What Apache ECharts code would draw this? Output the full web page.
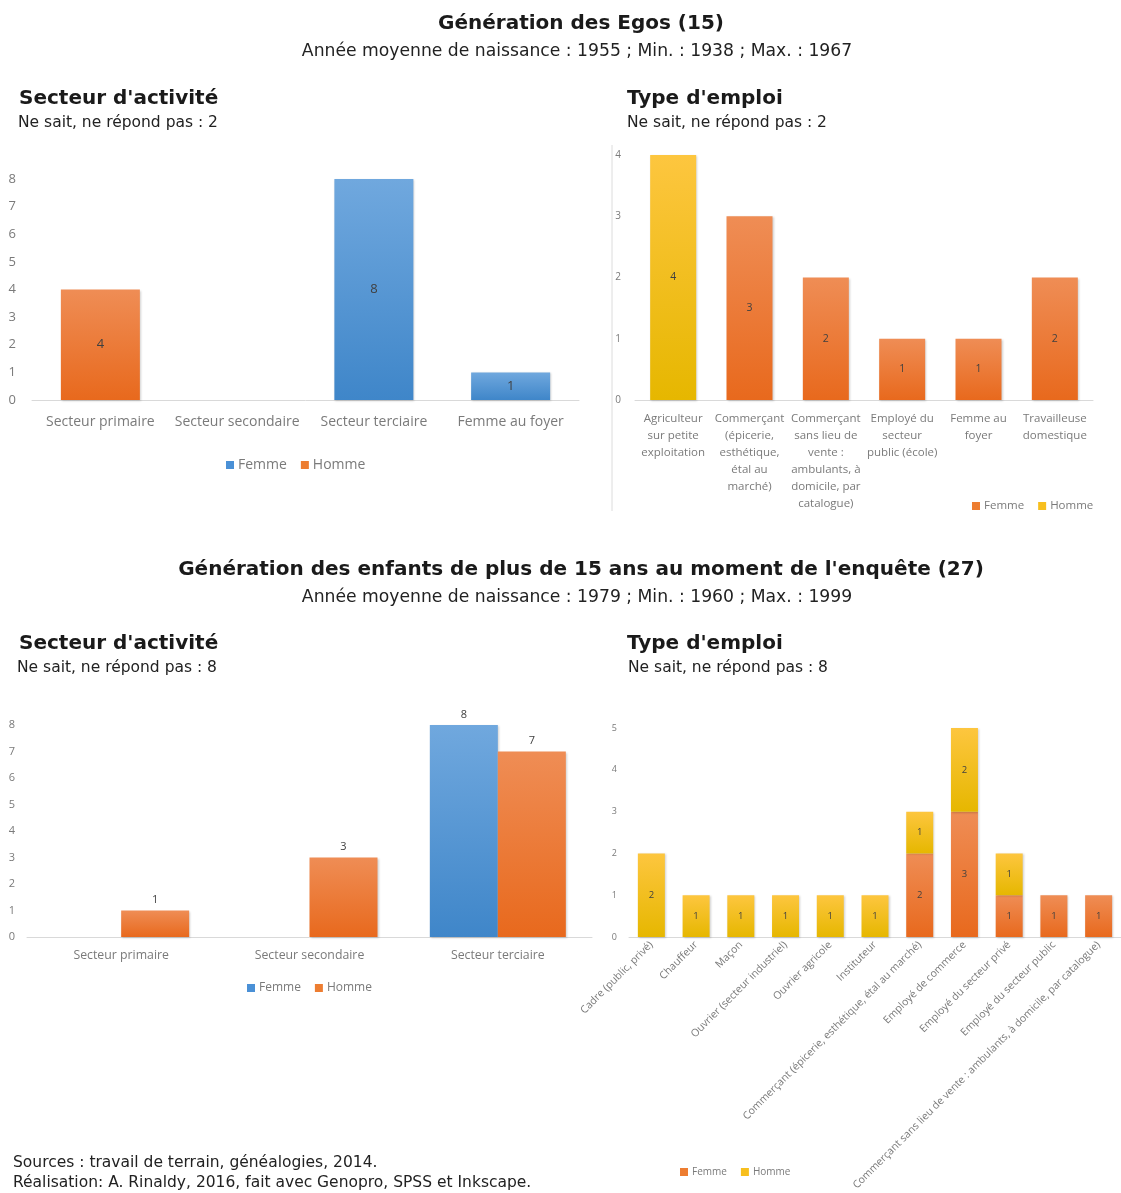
<!DOCTYPE html>
<html><head><meta charset="utf-8">
<script src="https://cdn.jsdelivr.net/npm/echarts@6/dist/echarts.min.js"></script>
<style>html,body{margin:0;padding:0;background:#fff}#c{width:1121px;height:1193px}</style>
</head><body><div id="c"></div>
<script>
// ---- Data ----
const tlCategories = ['Secteur primaire', 'Secteur secondaire', 'Secteur terciaire', 'Femme au foyer'];
const tlFemme = [0, 0, 8, 1];
const tlHomme = [4, 0, 0, 0];
const tlTicks = [0, 8];

const trCategories = ['Agriculteur\nsur petite\nexploitation', 'Commerçant\n(épicerie,\nesthétique,\nétal au\nmarché)', 'Commerçant\nsans lieu de\nvente :\nambulants, à\ndomicile, par\ncatalogue)', 'Employé du\nsecteur\npublic (école)', 'Femme au\nfoyer', 'Travailleuse\ndomestique'];
const trFemme = [0, 3, 2, 1, 1, 2];
const trHomme = [4, 0, 0, 0, 0, 0];
const trTicks = [0, 4];

const blCategories = ['Secteur primaire', 'Secteur secondaire', 'Secteur terciaire'];
const blFemme = [0, 0, 8];
const blHomme = [1, 3, 7];
const blTicks = [0, 8];

const brCategories = ['Cadre (public, privé)', 'Chauffeur', 'Maçon', 'Ouvrier (secteur industriel)', 'Ouvrier agricole', 'Instituteur', 'Commerçant (épicerie, esthétique, étal au marché)', 'Employé de commerce', 'Employé du secteur privé', 'Employé du secteur public', 'Commerçant sans lieu de vente : ambulants, à domicile, par catalogue)'];
const brFemme = [0, 0, 0, 0, 0, 0, 2, 3, 1, 1, 1];
const brHomme = [2, 1, 1, 1, 1, 1, 1, 2, 1, 0, 0];
const brTicks = [0, 5];

const texts = {
  t1: 'Génération des Egos (15)',
  s1: 'Année moyenne de naissance : 1955 ; Min. : 1938 ; Max. : 1967',
  t2: "Génération des enfants de plus de 15 ans au moment de l'enquête (27)",
  s2: 'Année moyenne de naissance : 1979 ; Min. : 1960 ; Max. : 1999',
  sect: "Secteur d'activité",
  type: "Type d'emploi",
  nsp1: 'Ne sait, ne répond pas : 2',
  nsp2: 'Ne sait, ne répond pas : 8',
  src1: 'Sources : travail de terrain, généalogies, 2014.',
  src2: 'Réalisation: A. Rinaldy, 2016, fait avec Genopro, SPSS et Inkscape.'
};

// ---- Styles ----
const FONT = '"Open Sans", sans-serif';
const HFONT = '"DejaVu Sans", sans-serif';
function grad(top, bottom) {
  return { type: 'linear', x: 0, y: 0, x2: 0, y2: 1, colorStops: [{ offset: 0, color: top }, { offset: 1, color: bottom }] };
}
const BLUE = grad('#70a8de', '#3f86c9');
const ORANGE = grad('#ef8d55', '#e8691d');
const YELLOW = grad('#fdc63f', '#e6b700');
const BLUE_S = '#4a90d6', ORANGE_S = '#ed7d31', YELLOW_S = '#f7bf1e';
const shadow = { shadowBlur: 2, shadowColor: 'rgba(0,0,0,0.18)', shadowOffsetX: 1, shadowOffsetY: 1 };

function xAxis(gi, cats, labelOpts) {
  return {
    type: 'category', gridIndex: gi, data: cats,
    axisLine: { lineStyle: { color: '#d9d9d9', width: 1 } },
    axisTick: { show: false },
    axisLabel: Object.assign({ color: '#7a7a7a', fontFamily: FONT, interval: 0 }, labelOpts)
  };
}
function yAxis(gi, ticks, fs, margin) {
  return {
    type: 'value', gridIndex: gi, min: ticks[0], max: ticks[1], interval: 1,
    axisLine: { show: false }, axisTick: { show: false }, splitLine: { show: false },
    axisLabel: { color: '#7a7a7a', fontFamily: FONT, fontSize: fs, margin: margin }
  };
}
const hideZero = p => (p.value ? String(p.value) : '');
function bar(name, gi, data, color, opts) {
  return Object.assign({
    type: 'bar', name: name, xAxisIndex: gi, yAxisIndex: gi, data: data,
    itemStyle: Object.assign({ color: color }, shadow),
    emphasis: { disabled: true }
  }, opts);
}
function lbl(fs, pos) {
  return { show: true, position: pos, formatter: hideZero, color: '#404040', fontFamily: FONT, fontSize: fs };
}
function legend(left, top, fs, items) {
  return {
    left: left, top: top, itemWidth: 8, itemHeight: 8, itemGap: 14, icon: 'rect',
    selectedMode: false,
    textStyle: { color: '#7a7a7a', fontFamily: FONT, fontSize: fs, padding: [0, 0, 0, -1] },
    data: items.map(it => ({ name: it[0], itemStyle: { color: it[1] } }))
  };
}
function txt(x, y, text, font, align, fill) {
  return { type: 'text', silent: true, style: { x: x, y: y + 2, text: text, font: font, fill: fill || '#1a1a1a', textAlign: align || 'left', textVerticalAlign: 'middle' } };
}
const H1 = 'bold 20px ' + HFONT, H2 = '17.2px ' + HFONT, P = '15.5px ' + HFONT;

const chart = echarts.init(document.getElementById('c'));
chart.setOption({
  animation: false,
  backgroundColor: '#ffffff',
  grid: [
    { left: 32, right: 542, top: 179, bottom: 793 },
    { left: 635, right: 28, top: 155, bottom: 793 },
    { left: 27, right: 529, top: 725, bottom: 256 },
    { left: 629, right: -7, top: 728, bottom: 255 }
  ],
  xAxis: [
    xAxis(0, tlCategories, { fontSize: 14, margin: 15 }),
    xAxis(1, trCategories, { fontSize: 11.5, margin: 10, lineHeight: 17, align: 'center' }),
    xAxis(2, blCategories, { fontSize: 12.3, margin: 12 }),
    xAxis(3, brCategories, { fontSize: 10.5, margin: 6, rotate: 45 })
  ],
  yAxis: [
    yAxis(0, tlTicks, 13, 16),
    yAxis(1, trTicks, 10, 14),
    yAxis(2, blTicks, 11, 12),
    yAxis(3, brTicks, 9, 12)
  ],
  legend: [
    legend(221, 453, 14, [['Femme', BLUE_S], ['Homme', ORANGE_S]]),
    legend(967, 495, 11.5, [['Femme', ORANGE_S], ['Homme', YELLOW_S]]),
    legend(242, 977, 12, [['Femme', BLUE_S], ['Homme', ORANGE_S]]),
    legend(675, 1162, 10, [['Femme', ORANGE_S], ['Homme', YELLOW_S]])
  ],
  series: [
    bar('Femme', 0, tlFemme, BLUE, { stack: 'tl', barWidth: 79, label: lbl(13, 'inside') }),
    bar('Homme', 0, tlHomme, ORANGE, { stack: 'tl', barWidth: 79, label: lbl(13, 'inside') }),
    bar('Femme', 1, trFemme, ORANGE, { stack: 'tr', barWidth: 46, label: lbl(10.5, 'inside') }),
    bar('Homme', 1, trHomme, YELLOW, { stack: 'tr', barWidth: 46, label: lbl(10.5, 'inside') }),
    bar('Femme', 2, blFemme, BLUE, { barWidth: 68, barGap: '0%', label: lbl(11, 'top') }),
    bar('Homme', 2, blHomme, ORANGE, { barWidth: 68, barGap: '0%', label: lbl(11, 'top') }),
    bar('Femme', 3, brFemme, ORANGE, { stack: 'br', barWidth: 27, label: lbl(9.5, 'inside') }),
    bar('Homme', 3, brHomme, YELLOW, { stack: 'br', barWidth: 27, label: lbl(9.5, 'inside') })
  ],
  graphic: [
    txt(581, 22, texts.t1, H1, 'center'),
    txt(577, 50, texts.s1, H2, 'center', '#222'),
    txt(19, 97, texts.sect, H1),
    txt(18, 121, texts.nsp1, P, 'left', '#222'),
    txt(627, 97, texts.type, H1),
    txt(627, 121, texts.nsp1, P, 'left', '#222'),
    txt(581, 568, texts.t2, H1, 'center'),
    txt(577, 596, texts.s2, H2, 'center', '#222'),
    txt(19, 642, texts.sect, H1),
    txt(17, 666, texts.nsp2, P, 'left', '#222'),
    txt(627, 642, texts.type, H1),
    txt(628, 666, texts.nsp2, P, 'left', '#222'),
    txt(13, 1161, texts.src1, P, 'left', '#222'),
    txt(13, 1181, texts.src2, P, 'left', '#222'),
    { type: 'line', silent: true, shape: { x1: 612, y1: 145, x2: 612, y2: 511 }, style: { stroke: '#dcdcdc', lineWidth: 1 } }
  ]
});
</script></body></html>
